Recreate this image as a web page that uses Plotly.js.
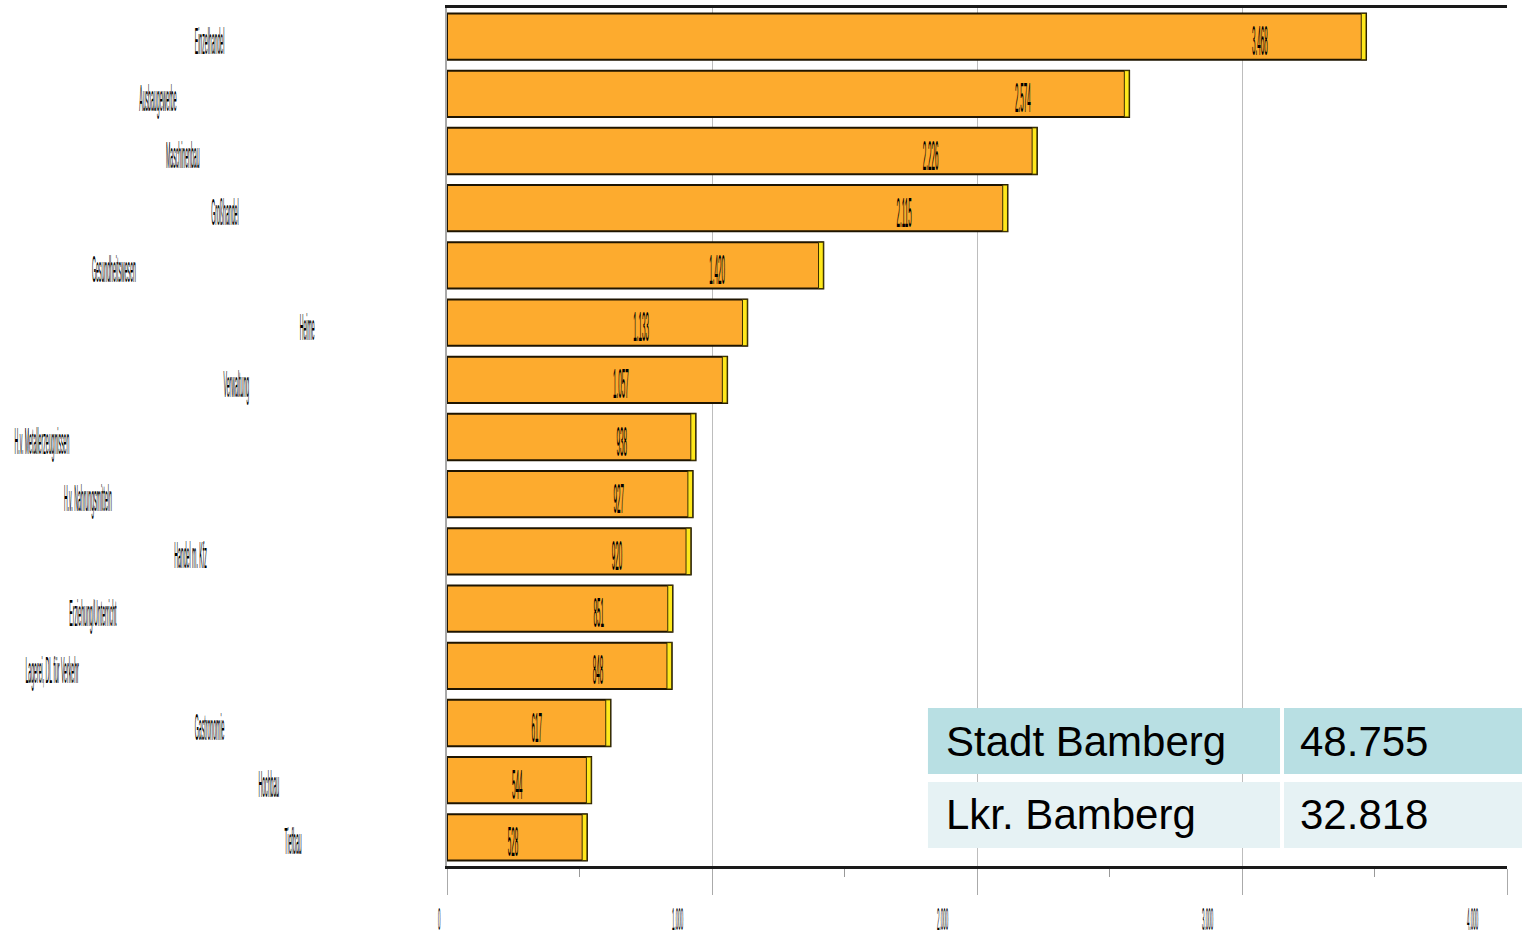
<!DOCTYPE html>
<html>
<head>
<meta charset="utf-8">
<script src="https://cdn.plot.ly/plotly-3.0.1.min.js"></script>
<style>
html,body{margin:0;padding:0;background:#fff;}
#chart{width:1522px;height:939px;}
</style>
</head>
<body>
<div id="chart"></div>
<script>
// ---- data ----
const categories = ["Einzelhandel","Ausbaugewerbe","Maschinenbau","Großhandel","Gesundheitswesen","Heime","Verwaltung","H.v. Metallerzeugnissen","H.v. Nahrungsmitteln","Handel m. Kfz","Erziehung/Unterricht","Lagerei, DL für Verkehr","Gastronomie","Hochbau","Tiefbau"];
const values = [3468,2574,2226,2115,1420,1133,1057,938,927,920,851,848,617,544,528];
const tickValues = [0,1000,2000,3000,4000];
const tableLabels = ["Stadt Bamberg","Lkr. Bamberg"];
const tableValues = ["48.755","32.818"];

// ---- style ----
const FONT = "Liberation Sans, Arial, sans-serif";
const edgeDepth = 18; // depth of the yellow 3D end face (axis units)
const rowColors = ["#B8DFE3","#E6F2F4"];

const mainBars = {
  type:'bar', orientation:'h',
  y: categories, x: values,
  marker:{color:'#FDAB2E', line:{color:'#1E1400', width:2}},
  texttemplate:'%{x:,d}', textposition:'inside', insidetextanchor:'end',
  constraintext:'none', textangle:0,
  textfont:{family:FONT, size:42, color:'#000'},
  hoverinfo:'skip'
};
const endFaces = {
  type:'bar', orientation:'h',
  y: categories, x: values.map(()=>edgeDepth), base: values.map(v=>v-edgeDepth),
  marker:{color:'#FFE81C', line:{color:'#3a3000', width:1}},
  hoverinfo:'skip'
};

// table shapes & annotations (paper coords)
const colX = [[0.4474,0.7749],[0.7786,1.0]];
const rowY = [[0.1072,0.1841],[0.0210,0.0979]];
const shapes = [];
const annotations = [];
tableLabels.forEach((lab,i)=>{
  colX.forEach(cx=>{
    shapes.push({type:'rect', xref:'paper', yref:'paper', x0:cx[0], x1:cx[1], y0:rowY[i][0], y1:rowY[i][1], fillcolor:rowColors[i], line:{width:0}, layer:'above'});
  });
  const yc=(rowY[i][0]+rowY[i][1])/2;
  annotations.push({xref:'paper', yref:'paper', x:colX[0][0]+0.0150, y:yc, xanchor:'left', yanchor:'middle', text:lab, showarrow:false, font:{family:FONT, size:42, color:'#000'}});
  annotations.push({xref:'paper', yref:'paper', x:colX[1][0]+0.0130, y:yc, xanchor:'left', yanchor:'middle', text:tableValues[i], showarrow:false, font:{family:FONT, size:42, color:'#000'}});
});

const layout = {
  width:1522, height:939,
  margin:{l:447, r:0, t:8, b:73},
  paper_bgcolor:'#fff', plot_bgcolor:'#fff',
  separators:',.',
  barmode:'overlay', bargap:0.19,
  showlegend:false,
  font:{family:FONT, color:'#000'},
  xaxis:{
    domain:[0,0.98605], range:[0,4000],
    tickvals:tickValues, tickformat:',d',
    showgrid:true, gridcolor:'#BDBDBD', gridwidth:1,
    zeroline:false,
    showline:true, linecolor:'#1a1a1a', linewidth:3, mirror:true,
    ticks:'outside', ticklen:26, tickcolor:'#AAAAAA', tickwidth:1,
    minor:{dtick:500, ticks:'outside', ticklen:8, tickcolor:'#999', showgrid:false},
    tickfont:{family:FONT, size:32, color:'#000'},
    ticklabeloverflow:'allow',
    fixedrange:true
  },
  yaxis:{
    type:'category', categoryorder:'array', categoryarray:categories,
    range:[14.5,-0.5],
    showgrid:false, zeroline:false,
    showline:true, linecolor:'#A8A8A8', linewidth:2,
    ticks:'', ticklabelstandoff:31,
    tickfont:{family:FONT, size:37, color:'#000'},
    fixedrange:true
  },
  shapes:shapes,
  annotations:annotations
};

// condense text horizontally about its left edge (the reference uses very condensed lettering)
function squeeze(sel, s, dx, dy){
  document.querySelectorAll(sel).forEach(t=>{
    const b=t.getBBox(); const L=b.x;
    const tr=t.getAttribute('transform')||'';
    t.setAttribute('transform', tr+' translate('+(L+dx)+','+dy+') scale('+s+',1) translate('+(-L)+',0)');
  });
}

Plotly.newPlot('chart',[mainBars,endFaces],layout,{staticPlot:true, displayModeBar:false}).then(()=>{
  squeeze('#chart .ytick text', 0.14, 0, 4);
  squeeze('#chart .xtick text', 0.14, 0, -3);
  squeeze('#chart .barlayer text', 0.15, -6, 4);
});
</script>
</body>
</html>
